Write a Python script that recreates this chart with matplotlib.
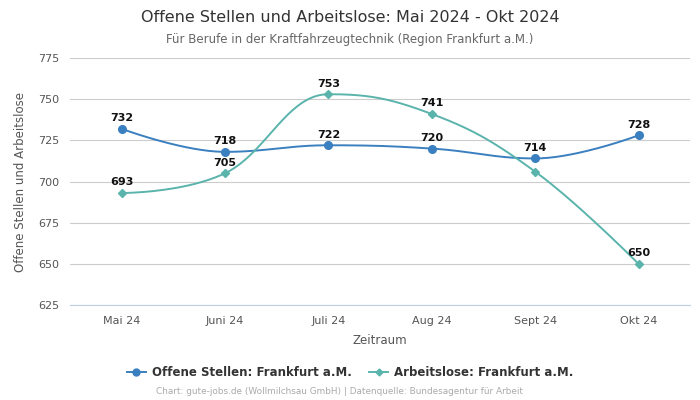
import numpy as np
import matplotlib
matplotlib.use("Agg")
import matplotlib.pyplot as plt
from matplotlib.lines import Line2D

categories = ["Mai 24", "Juni 24", "Juli 24", "Aug 24", "Sept 24", "Okt 24"]
offene = [732, 718, 722, 720, 714, 728]
arbeitslose = [693, 705, 753, 741, 706, 650]
yticks = [625, 650, 675, 700, 725, 750, 775]

BLUE = "#3a7fbf"
TEAL = "#5ab4ac"

def spline(x, y, n=40, smoothing=1.5):
    # Highcharts-style spline drawing between the given points
    x = np.asarray(x, float); y = np.asarray(y, float)
    N = len(x)
    lc = [(x[i], y[i]) for i in range(N)]
    rc = [(x[i], y[i]) for i in range(N)]
    den = smoothing + 1
    for i in range(1, N - 1):
        lx = (smoothing * x[i] + x[i-1]) / den
        ly = (smoothing * y[i] + y[i-1]) / den
        rx = (smoothing * x[i] + x[i+1]) / den
        ry = (smoothing * y[i] + y[i+1]) / den
        corr = (ry - ly) * (rx - x[i]) / (rx - lx) + y[i] - ry
        ly += corr; ry += corr
        if ly > y[i-1] and ly > y[i]:
            ly = max(y[i-1], y[i]); ry = 2 * y[i] - ly
        elif ly < y[i-1] and ly < y[i]:
            ly = min(y[i-1], y[i]); ry = 2 * y[i] - ly
        if ry > y[i+1] and ry > y[i]:
            ry = max(y[i+1], y[i]); ly = 2 * y[i] - ry
        elif ry < y[i+1] and ry < y[i]:
            ry = min(y[i+1], y[i]); ly = 2 * y[i] - ry
        lc[i] = (lx, ly); rc[i] = (rx, ry)
    xs, ys = [], []
    t = np.linspace(0, 1, n)
    for i in range(N - 1):
        p0 = np.array([x[i], y[i]]); p1 = np.array(rc[i])
        p2 = np.array(lc[i+1]); p3 = np.array([x[i+1], y[i+1]])
        pts = ((1-t)**3)[:, None]*p0 + (3*(1-t)**2*t)[:, None]*p1 + (3*(1-t)*t**2)[:, None]*p2 + (t**3)[:, None]*p3
        xs.append(pts[:, 0]); ys.append(pts[:, 1])
    return np.concatenate(xs), np.concatenate(ys)

fig = plt.figure(figsize=(7, 4), dpi=100)
ax = fig.add_axes([0.1, 0.2375, 0.886, 0.6175])

x = np.arange(len(categories))
series = [(offene, BLUE, "o", 5.5), (arbeitslose, TEAL, "D", 3.8)]
for k, (vals, col, mk, ms) in enumerate(series):
    sx, sy = spline(x, vals)
    ax.plot(sx, sy, color=col, lw=1.4, zorder=3)
    ax.plot(x, vals, ls="none", marker=mk, color=col, ms=ms, zorder=4)
    for i, (xi, v) in enumerate(zip(x, vals)):
        # hide labels that would collide with the previous series' label
        if k > 0 and abs(v - series[0][0][i]) < 10:
            continue
        ax.annotate(str(v), (xi, v), xytext=(0, 4), textcoords="offset points",
                    ha="center", va="bottom", fontsize=8, fontweight="bold", color="#111111", zorder=5)

ax.set_xlim(-0.5, 5.5)
ax.set_ylim(625, 775)
ax.set_yticks(yticks)
ax.set_xticks(x)
ax.set_xticklabels(categories)
ax.tick_params(axis="both", length=0, labelsize=8, colors="#555555", pad=8)
ax.grid(axis="y", color="#cccccc", lw=0.8)
ax.set_axisbelow(True)
for s in ["top", "right", "left"]:
    ax.spines[s].set_visible(False)
ax.spines["bottom"].set_color("#c0cce0")
ax.spines["bottom"].set_linewidth(0.8)

ax.set_xlabel("Zeitraum", fontsize=8.5, color="#555555", labelpad=6)
ax.set_ylabel("Offene Stellen und Arbeitslose", fontsize=8.5, color="#555555", labelpad=8)

fig.text(0.5, 0.955, "Offene Stellen und Arbeitslose: Mai 2024 - Okt 2024", ha="center", va="center",
         fontsize=11.5, color="#333333")
fig.text(0.5, 0.902, "Für Berufe in der Kraftfahrzeugtechnik (Region Frankfurt a.M.)", ha="center", va="center",
         fontsize=8.5, color="#666666")

handles = [Line2D([0], [0], color=BLUE, marker="o", ms=5, lw=1.4),
           Line2D([0], [0], color=TEAL, marker="D", ms=3.5, lw=1.4)]
fig.legend(handles, ["Offene Stellen: Frankfurt a.M.", "Arbeitslose: Frankfurt a.M."],
           loc="center", bbox_to_anchor=(0.5, 0.068), ncol=2, frameon=False,
           prop={"size": 8.5, "weight": "bold"}, labelcolor="#333333",
           handlelength=1.6, handletextpad=0.5, columnspacing=1.5)
fig.text(0.485, 0.02, "Chart: gute-jobs.de (Wollmilchsau GmbH) | Datenquelle: Bundesagentur für Arbeit",
         ha="center", va="center", fontsize=6.4, color="#aaaaaa")

fig.savefig("out.png", dpi=100)
